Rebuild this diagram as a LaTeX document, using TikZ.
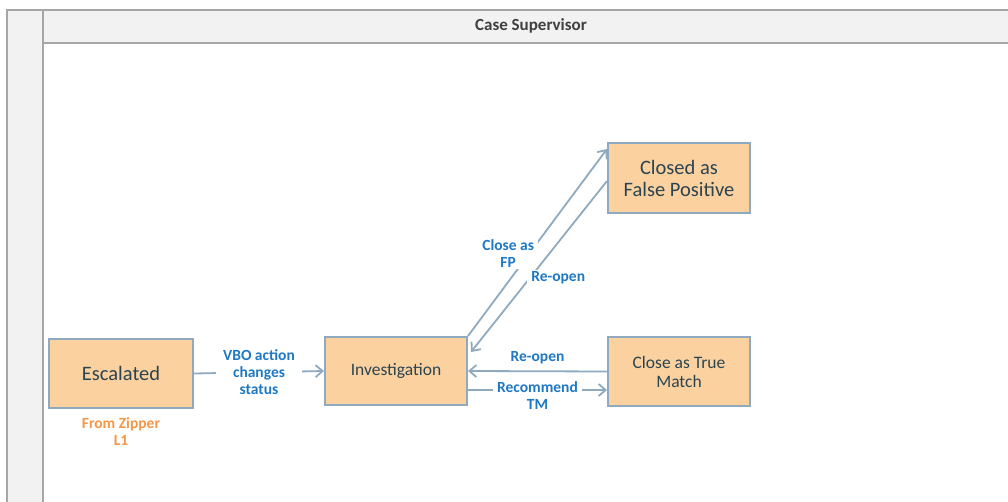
\documentclass[tikz,border=0pt]{standalone}
\usepackage{fontspec}
\setmainfont{Carlito}
\usepackage{xcolor}
\usetikzlibrary{arrows.meta,positioning}

\definecolor{boxfill}{HTML}{FCD1A0}
\definecolor{boxline}{HTML}{8FAABE}
\definecolor{boxtext}{HTML}{2A4450}
\definecolor{lblblue}{HTML}{1F78C4}
\definecolor{lblorange}{HTML}{F79646}
\definecolor{lanefill}{HTML}{F2F2F2}
\definecolor{laneline}{HTML}{A6A6A6}

\begin{document}
\begin{tikzpicture}[
  x=1pt, y=-1pt,
  state/.style={draw=boxline, line width=2pt, fill=boxfill, text=boxtext, align=center, inner sep=0pt, minimum width=142pt, minimum height=68pt, font=\fontsize{17.5}{19}\selectfont},
  big/.style={font=\fontsize{20.5}{22}\selectfont},
  arr/.style={-{Straight Barb[length=7pt,width=12pt]}, draw=boxline, line width=1.8pt},
  lbl/.style={text=lblblue, font=\bfseries\fontsize{15.5}{17}\selectfont, align=center, inner ysep=1pt, inner xsep=4pt}
]
\useasboundingbox (0,0) rectangle (1008,502);

% swimlane
\draw[draw=laneline, line width=1.6pt, fill=lanefill] (7,10) rectangle (43,510);
\draw[draw=laneline, line width=1.6pt, fill=lanefill] (43,10) rectangle (1015,43);
\node[font=\bfseries\fontsize{17}{19}\selectfont, text=black!75] (lane) at (531,26) {Case Supervisor};

% states
\node[state, big, minimum width=144pt, minimum height=69pt] (esc) at (121,373.5) {Escalated};
\node[state] (inv) at (396,371) {Investigation};
\node[state, big, minimum height=70pt] (fp) at (679,178) {Closed as\\False Positive};
\node[state, minimum height=69pt] (tm) at (679,371.5) {Close as True\\Match};
\node[lbl, text=lblorange, below=7pt of esc] (zip) {From Zipper\\L1};

% transitions
\draw[arr] (esc.east) -- node[lbl, fill=white, inner xsep=7pt] {VBO action\\changes\\status} (inv.west);
\draw[arr] (inv.north east) -- node[lbl, fill=white, pos=.44, xshift=-21pt] {Close as\\FP} ([yshift=-7pt]fp.north west);
\draw[arr] ([yshift=-39pt]fp.north west) -- node[lbl, fill=white, pos=.565, xshift=28pt] {Re-open} ([xshift=3pt,yshift=19pt]inv.east);
\draw[arr] (tm.west) -- node[lbl, above=5pt] {Re-open} (inv.east);
\draw[arr] ([yshift=-19pt]inv.east) -- node[lbl, fill=white, anchor=north, yshift=10pt] {Recommend\\TM} ([yshift=-19pt]inv.east -| tm.west);
\end{tikzpicture}
\end{document}
